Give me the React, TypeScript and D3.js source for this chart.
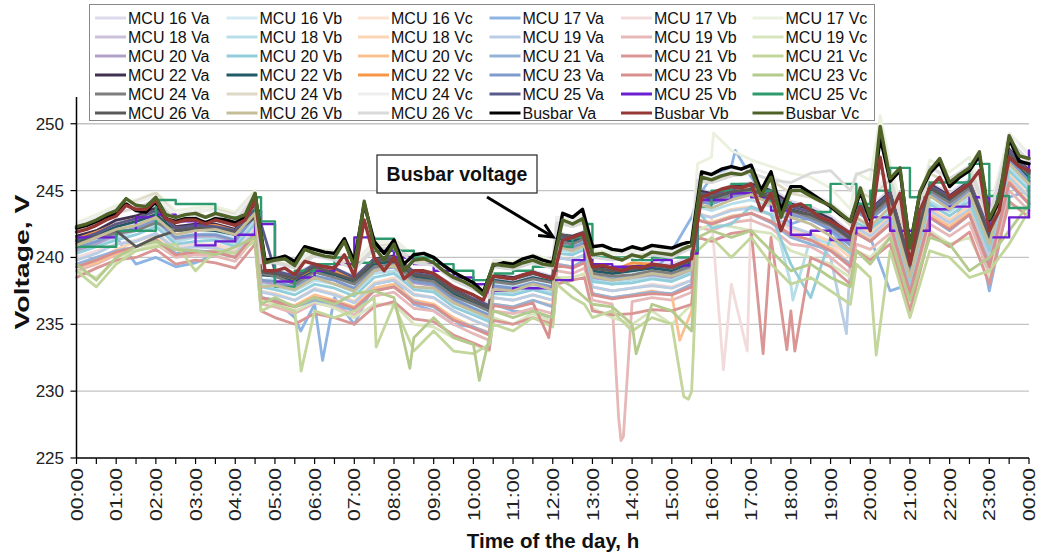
import React from 'react';
import * as d3 from 'd3';

// ---------- DATA ----------
const mcuHours = [0,0.5,1,1.5,2,2.5,3,3.5,4,4.5,4.65,5,5.5,6,6.5,7,7.5,8,8.5,9,9.5,10,10.4,10.5,11,11.5,12,12.1,12.5,12.8,13,13.5,14,14.5,15,15.5,15.65,16,16.5,17,17.5,18,18.5,19,19.5,19.65,20,20.5,21,21.5,22,22.5,23,23.5,24];

const mcu16Va = [241.5,242.0,242.6,243.0,243.6,242.3,242.5,242.4,242.0,243.8,239.0,239.0,238.8,239.5,239.2,238.6,239.9,240.2,239.0,238.8,237.9,237.0,236.6,238.7,238.5,239.0,238.6,241.9,241.6,242.0,239.4,239.2,239.4,239.6,239.5,240.1,245.1,244.9,245.4,245.6,245.2,244.2,243.8,243.1,241.9,244.4,243.8,245.1,240.0,245.6,244.8,245.9,242.2,248.2,246.6];
const mcu16Vb = [240.8,241.4,242.0,242.5,243.0,241.8,241.7,241.9,241.5,243.2,238.3,238.4,237.9,238.8,238.6,237.8,239.2,239.5,238.2,238.0,237.0,236.3,235.8,238.0,237.9,238.3,237.8,241.2,241.0,241.3,238.7,238.5,238.8,239.0,238.7,239.4,244.3,244.0,244.6,244.9,244.3,243.5,243.0,242.4,241.2,243.7,243.0,244.4,239.3,244.9,244.0,245.1,241.4,247.5,245.8];
const mcu16Vc = [240.5,241.0,241.8,242.3,243.0,241.9,242.0,242.2,241.8,243.5,238.8,238.7,238.2,239.2,238.9,238.0,239.5,239.8,238.5,238.4,237.3,236.6,236.0,238.3,238.2,238.7,238.2,241.5,241.3,241.7,239.0,238.8,239.0,239.3,239.0,239.8,244.8,244.5,245.0,245.3,244.8,243.8,243.4,242.7,241.5,244.0,243.4,244.8,239.6,245.3,244.4,245.5,241.8,247.9,246.2];
const mcu17Va = [241.0,241.5,241.5,239.5,240.0,239.3,239.6,240.2,240.5,242.0,237.0,236.8,235.5,236.5,237.0,235.0,238.0,238.3,236.5,236.0,235.0,234.8,234.2,236.5,236.0,235.8,235.5,240.5,241.5,241.0,238.5,238.0,238.5,238.8,240.5,243.0,244.5,246.0,246.8,246.0,244.0,242.5,243.0,242.0,240.5,242.0,241.5,237.5,238.0,243.0,242.0,245.0,237.5,244.5,245.0];
const mcu17Vb = [240.0,240.5,241.0,241.3,241.8,240.8,241.0,241.0,240.6,242.3,237.5,237.3,236.8,237.7,237.3,236.7,238.1,238.5,237.3,237.0,236.0,235.3,234.8,237.0,236.8,237.2,236.8,240.0,239.8,240.2,237.8,237.5,237.7,238.0,237.8,238.3,243.3,243.0,238.0,243.6,243.2,242.0,241.8,241.0,239.5,242.0,241.5,242.8,237.8,243.4,242.5,243.6,239.8,246.0,244.5];
const mcu17Vc = [242.6,243.2,243.9,244.3,244.9,243.5,243.7,243.8,243.4,245.0,239.9,240.1,239.7,240.6,240.5,239.6,241.2,241.4,240.1,239.9,238.8,238.1,237.4,239.8,239.7,240.2,239.8,243.0,242.9,243.2,240.5,240.4,240.6,240.8,240.6,241.3,247.0,247.5,248.0,247.3,246.8,246.3,246.0,245.2,243.6,246.3,245.8,247.0,241.2,247.3,246.4,247.5,243.5,249.3,247.8];
const mcu18Va = [241.0,241.7,242.3,242.7,243.3,242.0,242.1,242.2,241.8,243.6,238.7,238.6,238.3,239.1,238.8,238.2,239.6,239.8,238.6,238.5,237.4,236.7,236.1,238.4,238.2,238.6,238.3,241.6,241.4,241.7,239.1,238.9,239.1,239.3,239.1,239.7,244.8,244.6,245.1,245.3,244.9,243.9,243.5,242.7,241.6,244.0,243.4,244.7,239.5,245.3,244.5,245.6,241.7,248.0,246.3];
const mcu18Vb = [240.6,241.0,241.5,242.0,242.5,241.2,241.5,241.4,241.0,242.8,238.0,237.8,237.5,238.3,238.0,237.4,238.8,239.0,237.8,237.6,236.6,235.9,235.3,237.5,237.4,237.8,237.4,240.6,240.4,240.8,238.3,238.1,238.3,238.6,238.3,238.9,243.8,243.5,244.0,244.3,243.8,238.0,241.5,241.0,240.5,242.9,242.3,243.6,238.5,244.2,243.4,244.5,240.8,246.8,245.3];
const mcu18Vc = [239.5,239.8,240.6,241.2,241.7,240.6,240.8,240.8,240.4,242.0,237.4,237.3,236.8,237.6,237.3,236.7,238.1,238.4,237.2,237.0,236.0,235.3,234.8,237.0,236.8,237.2,236.8,240.0,239.8,240.2,237.8,237.5,237.7,237.9,237.7,238.3,243.3,243.0,243.6,243.8,243.2,242.2,241.8,241.2,240.0,242.4,241.8,243.1,238.0,243.7,242.8,243.9,240.0,246.2,244.6];
const mcu19Va = [239.8,240.3,241.0,241.2,241.8,240.6,240.8,240.7,240.3,242.0,237.4,237.2,236.8,237.6,237.2,236.6,238.0,238.3,237.2,237.0,236.0,235.3,234.8,237.0,236.8,237.2,236.8,240.0,239.8,240.2,237.8,237.5,237.7,237.9,237.7,238.3,243.2,243.0,243.5,243.7,243.2,242.3,241.8,240.0,240.0,242.2,241.6,242.9,237.8,243.5,242.6,243.6,240.0,246.0,244.5];
const mcu19Vb = [239.0,239.5,240.2,240.5,241.0,240.0,240.2,240.1,239.7,241.5,236.5,236.3,235.8,236.6,236.3,235.7,237.1,237.4,236.2,236.0,235.0,234.3,233.8,236.0,235.8,236.2,235.8,239.0,238.8,239.2,236.8,236.5,236.7,237.0,236.8,237.4,242.3,242.0,242.6,242.8,242.2,241.0,240.8,240.0,238.8,241.0,240.6,241.8,236.8,242.5,241.6,242.6,238.8,245.0,243.5];
const mcu19Vc = [239.0,238.5,239.8,240.5,241.0,240.3,240.5,240.3,240.0,241.5,236.8,236.5,236.0,236.7,236.2,235.5,236.5,236.5,235.0,234.8,234.0,233.5,233.0,235.5,235.0,235.8,235.2,238.5,238.5,238.8,236.2,235.5,235.0,236.0,235.0,236.5,242.0,242.5,242.3,242.0,241.8,240.5,240.0,239.5,238.5,240.5,240.0,241.5,236.5,242.0,241.0,241.5,238.5,244.0,243.5];
const mcu20Va = [240.5,241.0,241.7,242.2,242.8,241.4,241.6,241.6,241.2,243.2,238.2,238.0,237.7,238.6,238.3,237.6,239.0,239.3,238.1,237.9,236.8,236.1,235.5,237.8,237.6,238.1,237.7,240.8,240.7,241.0,238.5,238.3,238.5,238.7,238.5,239.1,244.2,244.0,244.6,244.8,244.3,243.3,242.9,242.2,241.0,243.5,242.8,244.2,239.0,244.8,243.9,245.0,241.2,247.4,245.7];
const mcu20Vb = [240.3,240.8,241.3,241.7,242.3,241.0,241.2,241.3,240.8,242.5,237.8,237.6,237.2,238.0,237.7,237.1,238.5,238.8,237.6,237.4,236.3,235.7,235.2,237.3,237.2,237.6,237.2,240.3,240.2,240.6,238.2,238.0,238.1,238.4,238.2,238.8,243.5,242.2,242.5,243.8,243.2,239.5,237.0,241.5,240.3,242.6,242.1,243.3,238.2,244.0,243.1,244.2,240.5,246.5,245.0];
const mcu20Vc = [239.3,239.6,240.3,240.8,241.4,240.3,240.4,240.5,240.0,241.6,237.0,236.8,236.4,237.2,236.8,236.3,237.7,238.0,236.8,236.5,235.5,234.8,234.4,236.5,236.3,236.8,236.4,239.5,239.3,239.7,237.3,237.0,237.2,237.5,237.2,236.0,242.8,242.6,243.1,243.3,242.7,241.7,241.3,240.7,239.5,241.9,241.3,242.6,237.5,243.2,242.3,243.4,239.5,245.7,244.1];
const mcu21Va = [239.5,240.0,240.5,240.8,241.3,240.3,240.5,240.4,240.0,241.8,237.0,236.8,236.3,236.8,236.5,236.0,237.5,237.8,236.7,236.3,235.3,234.8,234.3,236.5,236.3,236.8,236.3,239.5,239.3,239.8,237.3,237.0,237.2,237.4,237.3,238.0,242.8,242.5,243.0,243.3,242.6,241.5,241.0,240.5,239.5,241.8,241.2,242.5,237.5,243.0,242.0,243.2,239.5,245.5,244.0];
const mcu21Vb = [238.5,239.2,239.8,240.0,240.6,239.5,239.8,239.6,239.2,241.0,236.0,235.5,235.0,235.8,235.5,235.0,236.3,236.7,235.4,235.2,234.2,233.6,233.1,235.3,235.0,235.5,235.0,238.0,238.3,238.5,236.0,235.7,235.8,236.1,236.0,236.5,241.5,241.2,241.8,242.0,241.5,236.0,240.0,239.3,238.0,240.5,239.8,241.0,236.0,241.8,240.8,241.9,238.0,244.2,243.0];
const mcu21Vc = [239.0,237.8,239.5,240.5,240.8,241.0,239.0,240.5,240.3,241.2,236.0,236.5,236.0,236.0,235.5,236.0,237.0,236.5,233.0,234.5,233.0,232.8,233.5,235.0,234.5,235.5,234.8,238.0,237.0,236.5,235.5,236.0,234.5,235.5,235.0,230.0,240.5,241.5,240.0,241.5,239.5,238.0,238.5,237.5,236.5,239.5,238.5,240.5,235.5,240.5,240.0,238.5,239.0,241.0,243.5];
const mcu22Va = [241.6,242.0,242.8,243.1,243.7,242.3,242.5,242.5,242.1,244.0,239.0,238.9,238.5,239.4,239.1,238.4,239.9,240.1,238.9,238.7,237.6,236.9,236.3,238.7,238.5,238.9,238.5,241.7,241.6,241.9,239.3,239.1,239.3,239.5,239.3,239.9,245.0,244.8,245.3,245.5,245.0,244.0,243.6,242.9,241.7,244.1,243.6,244.9,239.8,245.5,244.6,245.7,241.9,248.1,246.5];
const mcu22Vb = [241.2,241.6,242.3,242.7,243.2,242.0,242.1,242.0,241.7,243.4,238.7,238.6,238.2,239.0,238.7,238.1,239.5,239.7,238.6,238.3,237.3,236.6,236.0,238.3,238.1,238.5,238.2,241.4,241.2,241.5,239.0,238.8,239.0,239.2,239.0,239.6,244.6,244.3,244.8,245.1,244.6,243.6,243.2,242.5,241.4,243.8,243.2,244.5,239.3,245.1,244.2,245.3,241.5,247.6,246.0];
const mcu22Vc = [241.4,241.9,242.5,242.9,243.5,242.2,242.3,242.4,242.0,243.6,238.9,238.8,238.4,239.2,239.0,238.3,239.8,240.0,238.8,238.6,237.5,236.8,236.3,238.6,238.4,238.8,238.4,241.6,241.4,241.8,239.2,239.0,239.6,239.5,239.2,239.8,244.8,244.6,245.0,245.3,244.8,243.8,243.4,242.7,241.6,244.0,243.5,244.7,239.6,245.3,244.5,245.6,241.8,248.0,246.4];
const mcu23Va = [240.7,241.2,241.8,242.2,242.8,241.5,241.7,241.7,241.3,243.1,238.3,238.2,237.8,238.6,238.3,237.7,239.1,239.3,238.2,238.0,236.9,236.2,235.7,237.9,237.7,238.1,237.8,241.0,240.8,241.1,238.6,238.4,238.6,238.8,238.6,239.2,244.2,244.0,244.5,244.7,244.2,243.2,242.8,242.1,240.9,243.4,242.8,244.1,239.0,244.7,243.8,244.9,241.1,247.3,245.7];
const mcu23Vb = [239.3,239.8,240.4,240.8,241.3,240.2,240.4,240.4,240.0,241.8,237.0,236.7,236.3,237.0,236.7,236.2,237.5,237.8,236.6,236.4,235.3,234.7,234.2,236.4,236.2,236.6,236.2,239.4,239.2,239.6,237.2,236.9,237.1,237.3,237.2,237.8,242.8,242.5,243.0,243.3,242.7,241.7,241.3,240.5,239.3,241.8,241.2,242.5,237.3,243.0,242.1,243.2,239.3,245.6,244.0];
const mcu23Vc = [239.5,238.3,240.0,240.8,241.2,240.6,240.5,240.2,240.8,241.5,236.5,237.0,236.3,237.0,236.5,237.3,237.5,237.0,234.0,235.5,234.0,233.5,234.0,236.0,235.5,236.0,235.5,238.5,237.8,237.0,236.5,236.3,235.0,236.5,236.0,234.5,241.5,242.0,241.5,242.0,240.5,239.0,239.5,238.5,237.8,240.5,239.5,241.5,236.8,241.5,241.0,239.0,240.0,242.0,244.0];
const mcu24Va = [240.9,241.5,241.8,242.0,242.6,242.0,242.3,242.1,241.9,243.2,238.8,238.6,238.0,238.9,238.5,238.0,239.3,239.5,238.4,238.2,237.1,236.5,236.0,238.2,238.0,238.4,238.1,241.2,241.0,241.4,238.8,238.6,238.7,239.0,238.8,239.4,244.5,244.2,244.7,245.0,244.5,243.5,243.0,242.4,241.3,243.6,243.0,244.4,239.3,245.0,244.1,245.2,241.3,247.6,246.2];
const mcu24Vb = [242.4,242.9,243.7,244.2,244.8,243.2,243.4,243.6,243.2,244.9,239.5,239.7,239.3,240.3,240.1,239.2,240.8,241.1,239.8,239.5,238.4,237.7,237.0,239.4,239.3,239.8,239.3,242.6,242.3,242.6,240.0,239.9,240.1,240.3,240.1,240.8,245.7,245.6,246.1,246.3,245.8,244.8,244.5,243.8,242.4,245.0,244.5,245.8,240.4,246.3,245.5,246.6,242.7,248.8,247.1];
const mcu24Vc = [242.5,243.0,243.7,244.1,244.6,243.2,243.5,243.5,243.1,244.9,240.0,240.0,239.6,240.5,240.2,239.5,241.0,241.2,240.0,239.8,238.7,238.0,237.4,239.7,239.5,240.0,239.6,243.0,242.7,243.1,240.4,240.2,240.4,240.6,240.4,241.1,246.2,246.0,246.5,246.7,246.2,245.2,244.8,244.1,242.9,245.4,244.8,246.1,240.9,246.7,245.8,246.9,243.1,249.3,247.6];
const mcu25Va = [241.3,241.8,242.5,242.9,243.5,242.2,242.4,242.3,242.0,243.6,242.5,239.0,238.6,239.5,239.2,238.5,239.8,240.0,238.8,238.6,237.5,236.9,236.4,238.6,238.4,238.8,238.4,241.6,241.4,241.8,239.2,239.0,239.2,239.4,239.2,239.8,244.8,244.7,245.1,245.4,244.8,243.8,243.4,242.7,241.5,244.0,243.5,244.8,239.6,245.4,244.5,245.6,241.8,248.0,246.4];
const mcu25Vb = [241.5,241.5,242.0,243.0,243.2,242.7,240.9,241.2,241.7,243.5,242.5,238.2,238.5,239.0,239.5,241.5,240.5,240.0,239.5,239.0,238.5,238.0,237.3,237.5,237.7,237.7,238.3,238.3,239.8,241.0,239.5,239.3,239.3,239.8,239.4,240.3,244.3,244.3,244.8,244.5,243.5,241.7,242.0,241.3,241.8,242.2,243.0,242.0,242.0,243.6,243.8,244.5,241.5,243.0,248.0];
const mcu25Vc = [240.8,240.8,242.0,242.0,244.3,244.0,244.0,243.0,243.0,244.5,242.7,237.8,239.0,239.5,240.0,239.6,241.4,240.5,240.0,239.5,239.0,238.3,238.0,238.8,239.0,239.3,239.0,240.8,241.5,242.5,240.0,240.0,239.8,240.0,240.0,240.5,243.8,245.0,245.5,245.0,244.1,243.9,243.4,245.5,245.5,244.0,245.0,246.7,244.5,245.6,245.6,247.0,244.6,243.7,246.5];
const mcu26Va = [241.0,241.6,242.0,240.8,241.5,242.0,242.2,242.1,241.9,243.0,238.9,238.8,238.4,239.3,238.8,238.3,239.7,239.9,238.7,238.5,237.5,236.8,236.2,238.6,238.4,238.8,238.5,241.8,241.5,241.8,239.2,239.0,239.1,239.4,239.2,239.8,244.7,244.5,244.9,245.1,244.4,243.5,243.2,242.5,241.4,243.8,243.3,244.6,239.4,245.2,244.4,245.4,241.5,247.7,246.3];
const mcu26Vb = [240.9,241.5,242.1,242.4,243.0,241.7,242.0,242.1,241.7,243.3,237.8,237.9,237.6,238.5,238.0,237.5,239.0,239.4,237.8,237.7,236.6,236.0,235.5,237.6,237.5,238.0,237.6,240.8,240.5,240.9,238.6,238.3,238.5,238.8,238.6,239.1,244.0,243.7,244.3,244.7,244.0,243.0,242.5,241.6,240.5,243.0,242.3,243.8,238.5,244.6,243.6,244.8,241.0,247.0,245.5];
const mcu26Vc = [242.0,242.6,243.3,243.7,244.3,242.8,243.1,243.1,242.7,244.6,239.6,239.6,239.2,240.1,239.8,239.1,240.6,240.8,239.6,239.4,238.3,237.6,237.0,239.3,239.1,239.6,239.2,242.6,242.3,242.7,240.0,239.8,240.0,240.2,240.0,240.7,245.8,245.6,246.1,246.3,245.8,245.6,246.3,246.5,245.0,246.2,246.6,246.0,241.0,246.8,245.9,246.8,243.0,248.8,247.2];

// short spikes / dips: [series, hour, volts]
const mcuSpikes: [string, number, number][] = [
  ['MCU 17 Vc', 16.05, 249.3], ['MCU 17 Vc', 20.25, 250.6],
  ['MCU 21 Vc', 5.66, 231.5], ['MCU 21 Vc', 7.55, 233.3], ['MCU 21 Vc', 15.3, 229.6], ['MCU 21 Vc', 15.42, 229.4], ['MCU 21 Vc', 20.15, 232.7],
  ['MCU 23 Vc', 8.4, 231.7], ['MCU 23 Vc', 10.15, 230.8], ['MCU 23 Vc', 14.1, 232.8],
  ['MCU 19 Vb', 13.66, 228.0], ['MCU 19 Vb', 13.72, 226.3], ['MCU 19 Vb', 13.78, 226.6],
  ['MCU 17 Vb', 16.3, 231.6], ['MCU 17 Vb', 16.9, 233.0],
  ['MCU 21 Vb', 17.3, 232.8], ['MCU 21 Vb', 17.9, 233.1], ['MCU 21 Vb', 18.1, 233.0],
  ['MCU 17 Va', 5.65, 234.5], ['MCU 17 Va', 6.2, 232.3], ['MCU 17 Va', 16.6, 248.0],
  ['MCU 19 Va', 19.4, 234.3],
  ['MCU 20 Vc', 15.2, 233.8],
  ['MCU 23 Vb', 11.9, 234.0],
  ['MCU 18 Vb', 18.05, 236.8],
];

const busbarVa = [242.2,242.4,242.7,243.0,243.3,244.0,243.5,243.4,244.2,242.9,242.7,242.9,242.9,242.6,242.9,242.8,242.6,243.0,244.7,239.8,239.9,240.1,239.7,240.8,240.6,240.4,240.3,241.4,239.7,244.0,241.2,240.3,241.3,239.5,240.2,240.3,240.0,239.4,238.9,238.5,238.1,237.4,239.4,239.6,239.5,239.9,240.1,239.8,239.6,243.3,243.0,243.6,240.8,240.9,240.6,240.5,240.8,240.6,240.9,240.8,240.7,241.0,241.2,246.4,246.2,246.6,246.8,246.6,246.9,245.0,246.4,243.5,245.3,245.3,244.8,244.3,243.8,243.2,242.7,244.9,242.8,249.0,245.7,246.5,240.8,244.8,246.3,247.1,245.3,246.0,246.5,247.6,242.8,244.2,248.9,247.2,247.0];
const busbarVb = [241.9,242.1,242.4,242.8,243.1,243.9,243.6,243.6,244.3,242.9,242.6,242.8,242.8,242.5,242.8,242.6,242.4,242.8,244.3,239.0,239.0,239.2,238.7,239.7,239.5,239.3,239.2,240.2,238.6,242.8,240.0,239.0,240.0,238.4,239.0,239.0,238.8,238.3,237.8,237.5,237.2,236.8,238.6,238.5,238.4,238.7,238.9,238.6,238.4,241.3,241.5,241.8,239.3,239.4,239.2,239.0,239.3,239.2,239.5,239.4,239.3,239.6,239.9,244.5,244.8,245.1,245.3,245.2,245.5,243.5,244.8,242.0,243.8,244.0,243.5,243.0,242.7,242.3,241.8,243.8,242.0,247.5,243.2,244.8,239.5,243.5,245.2,246.0,244.5,245.0,245.5,246.5,242.0,243.5,247.5,246.8,246.5];
const busbarVc = [242.3,242.5,242.8,243.2,243.5,244.4,243.9,243.8,244.5,243.2,243.0,243.2,243.3,243.0,243.3,243.1,242.9,243.2,244.8,239.6,239.8,239.9,239.4,240.6,240.3,240.1,240.0,241.2,239.3,244.2,240.8,239.8,241.0,239.0,239.8,239.9,239.6,239.0,238.5,238.2,237.8,237.2,239.5,239.4,239.3,239.6,239.8,239.5,239.4,242.8,242.5,242.9,240.2,240.3,240.0,239.8,240.2,240.0,240.4,240.3,240.2,240.6,240.9,246.0,245.8,246.1,246.3,246.2,246.5,244.6,246.0,243.0,245.0,245.0,244.6,244.2,243.9,243.3,242.7,245.2,243.0,249.8,245.9,246.7,240.7,244.9,246.5,247.4,245.6,246.2,246.7,247.9,242.9,244.4,249.1,247.6,247.4];
const busbarStepHours = 0.25;

const seriesNames = [
  'MCU 16 Va','MCU 16 Vb','MCU 16 Vc','MCU 17 Va','MCU 17 Vb','MCU 17 Vc',
  'MCU 18 Va','MCU 18 Vb','MCU 18 Vc','MCU 19 Va','MCU 19 Vb','MCU 19 Vc',
  'MCU 20 Va','MCU 20 Vb','MCU 20 Vc','MCU 21 Va','MCU 21 Vb','MCU 21 Vc',
  'MCU 22 Va','MCU 22 Vb','MCU 22 Vc','MCU 23 Va','MCU 23 Vb','MCU 23 Vc',
  'MCU 24 Va','MCU 24 Vb','MCU 24 Vc','MCU 25 Va','MCU 25 Vb','MCU 25 Vc',
  'MCU 26 Va','MCU 26 Vb','MCU 26 Vc','Busbar Va','Busbar Vb','Busbar Vc',
];
const seriesColors = [
  '#dcdaec','#d5ebf3','#fbe2d0','#8db4e2','#f2dcdb','#ebf1de',
  '#ccc1da','#b7dee8','#fcd5b4','#b9cde5','#e6b9b8','#d7e4bc',
  '#b2a1c7','#92cddc','#fac090','#95b3d7','#d99694','#c3d69b',
  '#403151','#215967','#f79646','#7f9bcc','#d8908e','#b5ca8d',
  '#7f7f7f','#ddd9c4','#eeeeee','#5a5a8a','#6b1fd1','#2e9b6e',
  '#595959','#c4bd97','#d9d9d9','#000000','#953735','#4f6228',
];
const mcuValues = [
  mcu16Va, mcu16Vb, mcu16Vc, mcu17Va, mcu17Vb, mcu17Vc,
  mcu18Va, mcu18Vb, mcu18Vc, mcu19Va, mcu19Vb, mcu19Vc,
  mcu20Va, mcu20Vb, mcu20Vc, mcu21Va, mcu21Vb, mcu21Vc,
  mcu22Va, mcu22Vb, mcu22Vc, mcu23Va, mcu23Vb, mcu23Vc,
  mcu24Va, mcu24Vb, mcu24Vc, mcu25Va, mcu25Vb, mcu25Vc,
  mcu26Va, mcu26Vb, mcu26Vc,
];
const busbarValues = [busbarVa, busbarVb, busbarVc];
const stepSeries = ['MCU 25 Vb', 'MCU 25 Vc'];

const yTicks = [225, 230, 235, 240, 245, 250];
const xTickLabels = ['00:00','01:00','02:00','03:00','04:00','05:00','06:00','07:00','08:00','09:00','10:00','11:00','12:00','13:00','14:00','15:00','16:00','17:00','18:00','19:00','20:00','21:00','22:00','23:00','00:00'];

// ---------- CHART ----------
const W = 1042, H = 553;
const FONT = '"Liberation Sans", Arial, sans-serif';

export default function App() {
  const x = d3.scaleLinear().domain([0, 24]).range([76.5, 1029]);
  const y = d3.scaleLinear().domain([225, 252]).range([458, 97]);
  const line = d3.line<[number, number]>().x(d => x(d[0])).y(d => y(d[1]));
  const stepLine = d3.line<[number, number]>().x(d => x(d[0])).y(d => y(d[1])).curve(d3.curveStepAfter);

  const paths: { name: string; color: string; d: string; w: number }[] = [];
  mcuValues.forEach((vals, i) => {
    const name = seriesNames[i];
    const pts: [number, number][] = [];
    const n = Math.min(vals.length, mcuHours.length);
    for (let k = 0; k < n; k++) pts.push([mcuHours[k], vals[k]]);
    mcuSpikes.filter(s => s[0] === name).forEach(s => pts.push([s[1], s[2]]));
    pts.sort((a, b) => a[0] - b[0]);
    const isStep = stepSeries.includes(name);
    paths.push({ name, color: seriesColors[i], d: (isStep ? stepLine : line)(pts) || '', w: isStep ? 2.4 : 2.8 });
  });
  busbarValues.forEach((vals, j) => {
    const i = mcuValues.length + j;
    const pts: [number, number][] = vals.map((v, k) => [Math.min(24, k * busbarStepHours), v]);
    paths.push({ name: seriesNames[i], color: seriesColors[i], d: line(pts) || '', w: 3.4 });
  });

  const halfHours = d3.range(0, 24.001, 0.5);

  // arrow geometry
  const ax0 = 487, ay0 = 197, ax1 = 553, ay1 = 237;
  const ang = Math.atan2(ay1 - ay0, ax1 - ax0);
  const hl = 15, ha = 0.45;
  const w1 = [ax1 - hl * Math.cos(ang - ha), ay1 - hl * Math.sin(ang - ha)];
  const w2 = [ax1 - hl * Math.cos(ang + ha), ay1 - hl * Math.sin(ang + ha)];

  return (
    <svg width={W} height={H} style={{ position: 'absolute', left: 0, top: 0, background: '#fff' }} fontFamily={FONT}>
      <rect x={0} y={0} width={W} height={H} fill="#fff" />
      {/* gridlines */}
      {yTicks.filter(t => t > 225).map(t => (
        <line key={'g' + t} x1={x(0)} x2={x(24)} y1={y(t)} y2={y(t)} stroke="#c3c3c3" strokeWidth={1.3} />
      ))}
      {/* series */}
      <g fill="none" strokeLinejoin="round" strokeLinecap="round">
        {paths.map(p => (
          <path key={p.name} d={p.d} stroke={p.color} strokeWidth={p.w} />
        ))}
      </g>
      {/* y axis */}
      <line x1={x(0)} x2={x(0)} y1={97} y2={458} stroke="#000" strokeWidth={1.5} />
      {yTicks.map(t => (
        <g key={'y' + t}>
          <line x1={x(0) - 6} x2={x(0)} y1={y(t)} y2={y(t)} stroke="#000" strokeWidth={1.2} />
          <text x={64} y={y(t)} dy="0.35em" textAnchor="end" fontSize={17} fill="#222">{t}</text>
        </g>
      ))}
      {/* x axis */}
      <line x1={x(0)} x2={x(24)} y1={458} y2={458} stroke="#000" strokeWidth={1.5} />
      {halfHours.map(h => (
        <line key={'xt' + h} x1={x(h)} x2={x(h)} y1={458} y2={464} stroke="#000" strokeWidth={1.2} />
      ))}
      {xTickLabels.map((lab, i) => (
        <text key={'xl' + i} transform={`translate(${x(i)},468) rotate(-90)`} dy="0.36em" textAnchor="end"
          fontSize={17} fill="#222" textLength={53} lengthAdjust="spacingAndGlyphs">{lab}</text>
      ))}
      {/* axis titles */}
      <text x={553} y={548} textAnchor="middle" fontSize={20.5} fontWeight="bold" fill="#111">Time of the day, h</text>
      <text transform="translate(29,262) rotate(-90)" textAnchor="middle" fontSize={21} fontWeight="bold" fill="#111"
        textLength={135} lengthAdjust="spacingAndGlyphs">Voltage, V</text>
      {/* annotation */}
      <rect x={377} y={155} width={160} height={38} fill="#fff" stroke="#333" strokeWidth={1.3} />
      <text x={457} y={181} textAnchor="middle" fontSize={19.5} fontWeight="bold" fill="#111">Busbar voltage</text>
      <line x1={ax0} y1={ay0} x2={ax1 - 2} y2={ay1 - 1.2} stroke="#000" strokeWidth={3} />
      <path d={`M${w1[0]},${w1[1]} L${ax1},${ay1} L${w2[0]},${w2[1]}`} fill="none" stroke="#000" strokeWidth={3} strokeLinejoin="miter" />
      {/* legend */}
      <rect x={89.5} y={4.5} width={785} height={116} fill="#fff" stroke="#888" strokeWidth={1} />
      {seriesNames.map((name, i) => {
        const c = i % 6, r = Math.floor(i / 6);
        const lx = 95 + c * 131.5, ly = 18 + r * 19;
        return (
          <g key={'lg' + name}>
            <line x1={lx} x2={lx + 31} y1={ly} y2={ly} stroke={seriesColors[i]} strokeWidth={3} />
            <text x={lx + 33} y={ly} dy="0.36em" fontSize={16} fill="#111">{name}</text>
          </g>
        );
      })}
    </svg>
  );
}
